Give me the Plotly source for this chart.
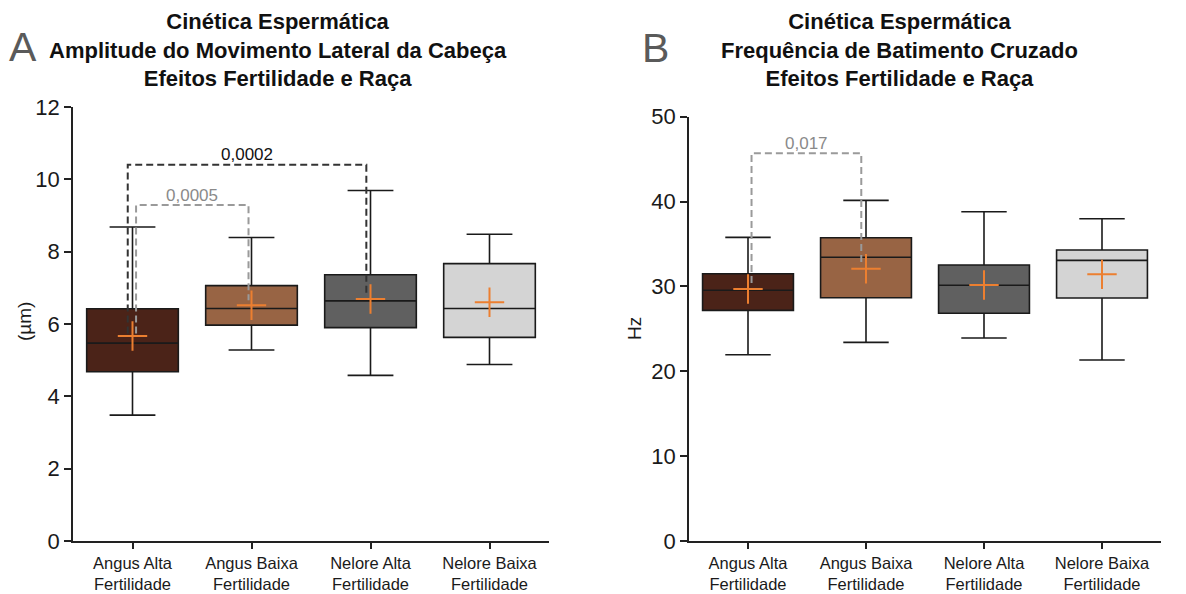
import plotly.graph_objects as go

# Groups (same four groups in both panels)
groups = ["Angus Alta<br>Fertilidade", "Angus Baixa<br>Fertilidade",
          "Nelore Alta<br>Fertilidade", "Nelore Baixa<br>Fertilidade"]
box_colors = ["#4b2318", "#986444", "#606060", "#d4d4d4"]

# Panel A: amplitude of lateral head displacement (µm)
alh_low = [3.48, 5.28, 4.58, 4.88]
alh_q1 = [4.68, 5.97, 5.90, 5.63]
alh_med = [5.47, 6.43, 6.64, 6.43]
alh_q3 = [6.42, 7.06, 7.36, 7.67]
alh_high = [8.68, 8.39, 9.69, 8.48]
alh_mean = [5.67, 6.52, 6.69, 6.60]

# Panel B: beat cross frequency (Hz)
bcf_low = [21.95, 23.41, 23.92, 21.33]
bcf_q1 = [27.18, 28.67, 26.83, 28.63]
bcf_med = [29.54, 33.43, 30.13, 33.07]
bcf_q3 = [31.50, 35.74, 32.52, 34.29]
bcf_high = [35.78, 40.14, 38.80, 37.98]
bcf_mean = [29.69, 32.09, 30.16, 31.42]

# Pairwise comparisons: (label, left group, right group, bracket level, left drop, right drop)
alh_tests = [("0,0002", 0, 2, 10.40, 5.74, 6.78),
             ("0,0005", 0, 1, 9.29, 5.74, 6.66)]
bcf_tests = [("0,017", 0, 1, 45.68, 30.4, 32.8)]

W, H = 1186, 594


def px_x(p):
    return p / W


def px_y(p):
    return 1 - p / H


fig = go.Figure()

panels = [
    dict(xa="x", ya="y", low=alh_low, q1=alh_q1, med=alh_med, q3=alh_q3,
         high=alh_high, mean=alh_mean, tests=alh_tests,
         styles=[("#333333", "#111111", -0.04, -0.035), ("#9a9a9a", "#8a8a8a", 0.03, -0.025)]),
    dict(xa="x2", ya="y2", low=bcf_low, q1=bcf_q1, med=bcf_med, q3=bcf_q3,
         high=bcf_high, mean=bcf_mean, tests=bcf_tests,
         styles=[("#9a9a9a", "#8a8a8a", 0.03, -0.04)]),
]

for pn in panels:
    for i in range(len(groups)):
        fig.add_trace(go.Box(
            x=[i], q1=[pn["q1"][i]], median=[pn["med"][i]], q3=[pn["q3"][i]],
            lowerfence=[pn["low"][i]], upperfence=[pn["high"][i]],
            width=0.77, whiskerwidth=0.5, fillcolor=box_colors[i],
            line=dict(color="#1a1a1a", width=1.6), boxpoints=False,
            xaxis=pn["xa"], yaxis=pn["ya"], showlegend=False, hoverinfo="skip"))
    # comparison brackets
    for (label, a, b, level, da, db), (lc, tc, oa, ob) in zip(pn["tests"], pn["styles"]):
        fig.add_trace(go.Scatter(
            x=[a + oa, a + oa, b + ob, b + ob], y=[da, level, level, db],
            mode="lines", line=dict(color=lc, width=2, dash="7px,4px"),
            xaxis=pn["xa"], yaxis=pn["ya"], showlegend=False, hoverinfo="skip"))
        fig.add_annotation(x=(a + oa + b + ob) / 2, y=level, xref=pn["xa"], yref=pn["ya"],
                           text=label, showarrow=False, yanchor="middle", yshift=10,
                           font=dict(size=17, color=tc, family="Liberation Sans, Arial"))
    # group means
    fig.add_trace(go.Scatter(
        x=list(range(len(groups))), y=pn["mean"], mode="markers",
        marker=dict(symbol="cross-thin", size=21, line=dict(color="#ec7f30", width=2)),
        xaxis=pn["xa"], yaxis=pn["ya"], showlegend=False, hoverinfo="skip"))

axis_common = dict(showline=True, linecolor="#222222", linewidth=1.6, ticks="outside",
                   ticklen=7, tickwidth=1.6, tickcolor="#222222", showgrid=False,
                   zeroline=False, fixedrange=True, automargin=False)
xaxis_common = dict(axis_common, tickmode="array", tickvals=list(range(len(groups))),
                    ticktext=groups, range=[-0.5, 3.5], ticklen=6,
                    tickfont=dict(size=16.5, color="#1a1a1a", family="Liberation Sans, Arial"))
yfont = dict(size=22, color="#1a1a1a", family="Liberation Sans, Arial")

fig.update_layout(
    width=W, height=H, margin=dict(l=0, r=0, t=0, b=0, autoexpand=False),
    paper_bgcolor="white", plot_bgcolor="white",
    xaxis=dict(xaxis_common, domain=[px_x(73), px_x(549)], anchor="y"),
    yaxis=dict(axis_common, domain=[px_y(541), px_y(107)], range=[0, 12], dtick=2,
               tickfont=yfont, anchor="x"),
    xaxis2=dict(xaxis_common, domain=[px_x(689), px_x(1161)], anchor="y2"),
    yaxis2=dict(axis_common, domain=[px_y(541), px_y(116.7)], range=[0, 50], dtick=10,
                tickfont=yfont, anchor="x2"),
)

title_font = dict(size=22, color="#111111", family="Liberation Sans, Arial")
fig.add_annotation(x=px_x(278), y=px_y(50), xref="paper", yref="paper", showarrow=False,
                   text="<b>Cinética Espermática<br>Amplitude do Movimento Lateral da Cabeça"
                        "<br>Efeitos Fertilidade e Raça</b>",
                   font=title_font, align="center", xanchor="center", yanchor="middle")
fig.add_annotation(x=px_x(899), y=px_y(50), xref="paper", yref="paper", showarrow=False,
                   text="<b>Cinética Espermática<br>Frequência de Batimento Cruzado"
                        "<br>Efeitos Fertilidade e Raça</b>",
                   font=title_font, align="center", xanchor="center", yanchor="middle")

# panel letters
letter_font = dict(size=41, color="#5a5a5a", family="Liberation Sans, Arial")
fig.add_annotation(x=px_x(23), y=px_y(47), xref="paper", yref="paper", showarrow=False,
                   text="A", font=letter_font, xanchor="center", yanchor="middle")
fig.add_annotation(x=px_x(655), y=px_y(48), xref="paper", yref="paper", showarrow=False,
                   text="B", font=letter_font, xanchor="center", yanchor="middle")

# y-axis titles
ytitle_font = dict(size=19, color="#1a1a1a", family="Liberation Sans, Arial")
fig.add_annotation(x=px_x(24), y=px_y(322), xref="paper", yref="paper", showarrow=False,
                   text="(µm)", textangle=-90, font=ytitle_font,
                   xanchor="center", yanchor="middle")
fig.add_annotation(x=px_x(634), y=px_y(328), xref="paper", yref="paper", showarrow=False,
                   text="Hz", textangle=-90, font=ytitle_font,
                   xanchor="center", yanchor="middle")

fig.write_html("out.html")
